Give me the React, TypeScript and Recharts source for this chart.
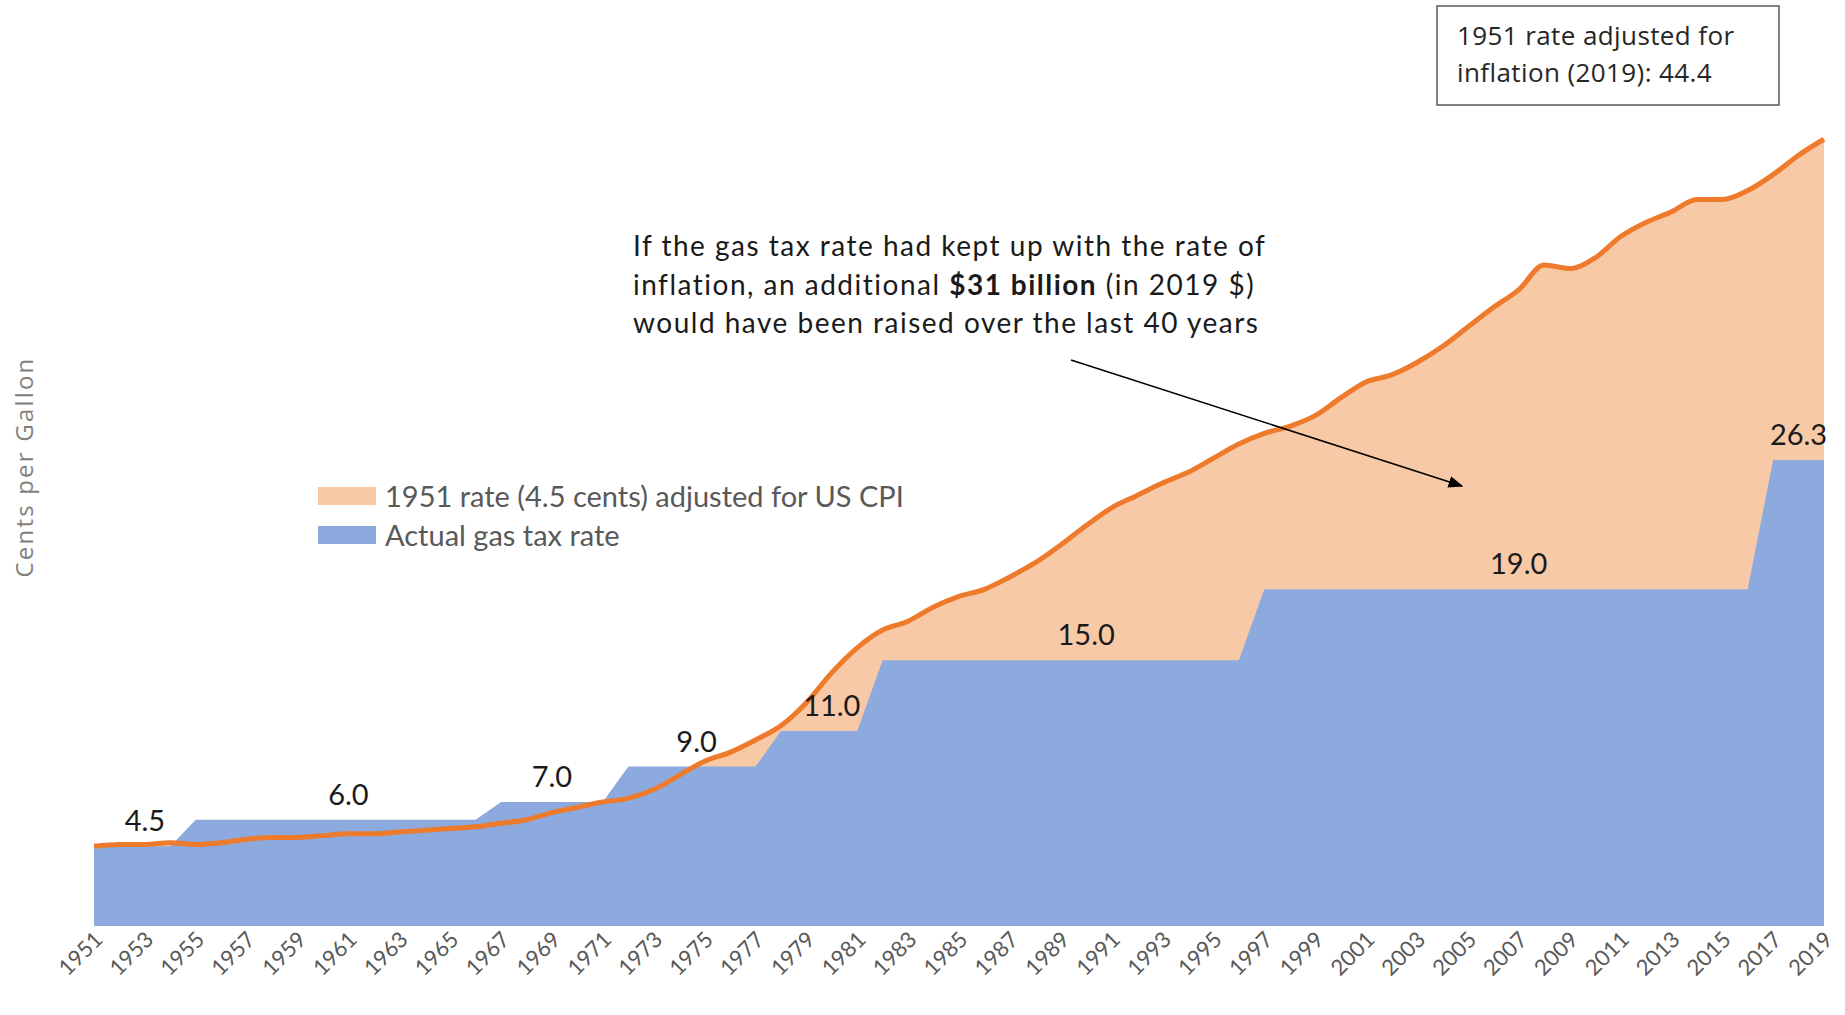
import React from "react";
import {
  ComposedChart,
  Area,
  Line,
  XAxis,
  YAxis,
  Legend,
  LabelList,
} from "recharts";

const years = [
  1951, 1952, 1953, 1954, 1955, 1956, 1957, 1958, 1959, 1960,
  1961, 1962, 1963, 1964, 1965, 1966, 1967, 1968, 1969, 1970,
  1971, 1972, 1973, 1974, 1975, 1976, 1977, 1978, 1979, 1980,
  1981, 1982, 1983, 1984, 1985, 1986, 1987, 1988, 1989, 1990,
  1991, 1992, 1993, 1994, 1995, 1996, 1997, 1998, 1999, 2000,
  2001, 2002, 2003, 2004, 2005, 2006, 2007, 2008, 2009, 2010,
  2011, 2012, 2013, 2014, 2015, 2016, 2017, 2018, 2019,
];

// actual gas tax rate, cents per gallon
const actualRate = [
  4.5, 4.5, 4.5, 4.5,
  6.0, 6.0, 6.0, 6.0, 6.0, 6.0, 6.0, 6.0, 6.0, 6.0, 6.0, 6.0,
  7.0, 7.0, 7.0, 7.0, 7.0,
  9.0, 9.0, 9.0, 9.0, 9.0, 9.0,
  11.0, 11.0, 11.0, 11.0,
  15.0, 15.0, 15.0, 15.0, 15.0, 15.0, 15.0, 15.0, 15.0, 15.0, 15.0, 15.0, 15.0, 15.0, 15.0,
  19.0, 19.0, 19.0, 19.0, 19.0, 19.0, 19.0, 19.0, 19.0, 19.0,
  19.0, 19.0, 19.0, 19.0, 19.0, 19.0, 19.0, 19.0, 19.0, 19.0,
  26.3, 26.3, 26.3,
];

// 1951 rate (4.5 cents) adjusted for US CPI
const cpiAdjusted = [
  4.5, 4.6, 4.6, 4.7, 4.6, 4.7, 4.9, 5.0, 5.0, 5.1,
  5.2, 5.2, 5.3, 5.4, 5.5, 5.6, 5.8, 6.0, 6.4, 6.7,
  7.0, 7.2, 7.7, 8.5, 9.3, 9.8, 10.5, 11.3, 12.6, 14.3,
  15.7, 16.7, 17.2, 18.0, 18.6, 19.0, 19.7, 20.5, 21.5, 22.6,
  23.6, 24.3, 25.0, 25.6, 26.4, 27.2, 27.8, 28.2, 28.8, 29.8,
  30.7, 31.1, 31.8, 32.7, 33.8, 34.9, 35.9, 37.3, 37.1, 37.7,
  38.9, 39.7, 40.3, 41.0, 41.0, 41.5, 42.4, 43.5, 44.4,
];

// years where the actual rate gets a value label
const labelYears = [1953, 1961, 1969, 1975, 1980, 1990, 2007, 2018];

const data = years.map((year, i) => ({
  year,
  actual: actualRate[i],
  cpi: cpiAdjusted[i],
}));

const ORANGE = "#EE7A2C";
const PEACH = "#F8C9A6";
const BLUE = "#8DAADF";
const FONT = "Lato, 'Open Sans', sans-serif";
const BOX_FONT = "'Open Sans', sans-serif";

const YearTick = (props: any) => {
  const { x, y, payload } = props;
  return (
    <g transform={`translate(${x + 5},${y + 2})`}>
      <text
        transform="rotate(-45)"
        textAnchor="end"
        dy={7}
        fontSize={22}
        fontFamily={FONT}
        fill="#595959"
      >
        {payload.value}
      </text>
    </g>
  );
};

const RateLabel = (props: any) => {
  const { x, y, value, index } = props;
  if (!labelYears.includes(years[index])) return null;
  return (
    <text
      x={x}
      y={y - 15}
      dx={years[index] === 1975 ? -8 : 0}
      textAnchor="middle"
      fontSize={29}
      fontFamily={FONT}
      fill="#1a1a1a"
    >
      {Number(value).toFixed(1)}
    </text>
  );
};

const LegendBox = () => (
  <div style={{ fontFamily: FONT, fontSize: 29, color: "#595959", lineHeight: "39px" }}>
    <div style={{ display: "flex", alignItems: "center" }}>
      <span style={{ width: 58, height: 18, background: PEACH, marginRight: 9 }} />
      1951 rate (4.5 cents) adjusted for US CPI
    </div>
    <div style={{ display: "flex", alignItems: "center" }}>
      <span style={{ width: 58, height: 18, background: BLUE, marginRight: 9 }} />
      Actual gas tax rate
    </div>
  </div>
);

export default function App() {
  return (
    <div style={{ position: "absolute", left: 0, top: 0, width: 1845, height: 1015, background: "#fff" }}>
      <ComposedChart
        width={1845}
        height={1015}
        data={data}
        margin={{ top: 40, right: 21, left: 94, bottom: 9 }}
      >
        <XAxis
          dataKey="year"
          interval={1}
          axisLine={false}
          tickLine={false}
          height={80}
          tick={<YearTick />}
        />
        <YAxis hide domain={[0, 50]} />
        <Legend
          layout="vertical"
          align="center"
          verticalAlign="middle"
          wrapperStyle={{ left: 318, top: 476, width: 640 }}
          content={<LegendBox />}
        />
        <Area
          dataKey="cpi"
          type="linear"
          fill={PEACH}
          fillOpacity={1}
          stroke="none"
          isAnimationActive={false}
          legendType="none"
        />
        <Area
          dataKey="actual"
          type="linear"
          fill={BLUE}
          fillOpacity={1}
          stroke="none"
          isAnimationActive={false}
        >
          <LabelList dataKey="actual" content={<RateLabel />} />
        </Area>
        <Line
          dataKey="cpi"
          type="monotone"
          stroke={ORANGE}
          strokeWidth={5}
          dot={false}
          activeDot={false}
          isAnimationActive={false}
          legendType="none"
        />
      </ComposedChart>

      <svg
        width={1845}
        height={1015}
        style={{ position: "absolute", left: 0, top: 0, pointerEvents: "none" }}
      >
        <defs>
          <marker id="arrowHead" markerWidth="10" markerHeight="8" refX="9" refY="4" orient="auto">
            <path d="M0,0 L10,4 L0,8 Z" fill="#000" />
          </marker>
        </defs>

        <text
          x={27}
          y={467}
          transform="rotate(-90 27 467)"
          textAnchor="middle"
          dominantBaseline="middle"
          fontSize={24}
          letterSpacing={2.2}
          fontFamily={BOX_FONT}
          fill="#7f7f7f"
        >
          Cents per Gallon
        </text>

        <rect x={1437} y={6} width={342} height={99} fill="#fff" stroke="#595959" strokeWidth={1.5} />
        <text x={1457} y={45} fontSize={26} letterSpacing={0.4} fontFamily={BOX_FONT} fill="#262626">
          1951 rate adjusted for
        </text>
        <text x={1457} y={82} fontSize={26} letterSpacing={0.4} fontFamily={BOX_FONT} fill="#262626">
          inflation (2019): 44.4
        </text>

        <g fontSize={28} letterSpacing={1.5} fontFamily={FONT} fill="#1a1a1a">
          <text x={633} y={256}>If the gas tax rate had kept up with the rate of</text>
          <text x={633} y={295}>
            inflation, an additional <tspan fontWeight="bold">$31 billion</tspan> (in 2019 $)
          </text>
          <text x={633} y={333}>would have been raised over the last 40 years</text>
        </g>

        <line
          x1={1071}
          y1={360}
          x2={1462}
          y2={486}
          stroke="#000"
          strokeWidth={1.5}
          markerEnd="url(#arrowHead)"
        />
      </svg>
    </div>
  );
}
